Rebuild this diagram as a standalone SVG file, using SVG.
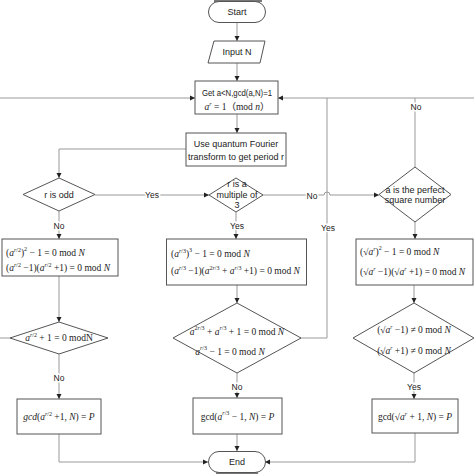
<svg xmlns="http://www.w3.org/2000/svg" width="474" height="474" viewBox="0 0 474 474">
<style>
.shape{fill:#fff;stroke:#555;stroke-width:1}
.ln{fill:none;stroke:#999;stroke-width:1}
.t{font-family:"Liberation Sans",Arial,sans-serif;font-size:9px;fill:#222;text-anchor:middle}
.m{font-family:"Liberation Serif","Noto Sans CJK SC",serif;font-size:9.5px;fill:#222;text-anchor:middle}
.s{text-anchor:start}
.i{font-style:italic}
.lbl{font-family:"Liberation Sans",Arial,sans-serif;font-size:8.5px;fill:#222;text-anchor:middle;stroke:#fff;stroke-width:3px;paint-order:stroke}
</style>
<defs>
<marker id="ah" markerWidth="6" markerHeight="6" refX="5" refY="3" orient="auto" markerUnits="userSpaceOnUse">
<path d="M0,0.5 L5,3 L0,5.5 Z" fill="#222"/>
</marker>
</defs>
<rect x="0" y="0" width="474" height="474" fill="#fff"/>

<g id="connectors">
<path class="ln" d="M237,22 V41" marker-end="url(#ah)"/>
<path class="ln" d="M237,63 V81" marker-end="url(#ah)"/>
<path class="ln" d="M237,114 V133" marker-end="url(#ah)"/>
<path class="ln" d="M186,149 H59 V178" marker-end="url(#ah)"/>
<path class="ln" d="M95,195 H209" marker-end="url(#ah)"/>
<path class="ln" d="M59,211 V239" marker-end="url(#ah)"/>
<path class="ln" d="M263,195 H324 A3,3 0 0 1 330,195 H379" marker-end="url(#ah)"/>
<path class="ln" d="M236,212 V239" marker-end="url(#ah)"/>
<path class="ln" d="M415,222 V239" marker-end="url(#ah)"/>
<path class="ln" d="M415,167 V98"/>
<path class="ln" d="M474,98 H278" marker-end="url(#ah)"/>
<path class="ln" d="M300,338 H327 V98"/>
<path class="ln" d="M59,276 V322" marker-end="url(#ah)"/>
<path class="ln" d="M10,338 H0"/>
<path class="ln" d="M0,98 H195" marker-end="url(#ah)"/>
<path class="ln" d="M59,354 V399" marker-end="url(#ah)"/>
<path class="ln" d="M59,434 V462 H208" marker-end="url(#ah)"/>
<path class="ln" d="M237,285 V303" marker-end="url(#ah)"/>
<path class="ln" d="M237,373 V398" marker-end="url(#ah)"/>
<path class="ln" d="M237,434 V451" marker-end="url(#ah)"/>
<path class="ln" d="M414,285 V303" marker-end="url(#ah)"/>
<path class="ln" d="M414,373 V399" marker-end="url(#ah)"/>
<path class="ln" d="M415,433 V462 H265" marker-end="url(#ah)"/>
<text class="lbl" x="152" y="198">Yes</text>
<text class="lbl" x="59" y="229">No</text>
<text class="lbl" x="312" y="199">No</text>
<text class="lbl" x="237" y="229">Yes</text>
<text class="lbl" x="416" y="110">No</text>
<text class="lbl" x="328" y="231">Yes</text>
<text class="lbl" x="59" y="381">No</text>
<text class="lbl" x="237" y="390">No</text>
<text class="lbl" x="414" y="390">Yes</text>
</g>

<g id="start">
<rect x="214" y="0" width="48" height="2" fill="#777"/>
<rect class="shape" x="208.5" y="1.5" width="57" height="21" rx="10.5"/>
<text class="t" x="237" y="15">Start</text>
</g>

<g id="input">
<path class="shape" d="M214,41 H265 L260,63 H208 Z"/>
<text class="t" x="237" y="55">Input N</text>
</g>

<g id="get">
<rect class="shape" x="195" y="81" width="83" height="33"/>
<text class="t" x="237" y="96" textLength="70" lengthAdjust="spacingAndGlyphs">Get a&lt;N,gcd(a,N)=1</text>
<text class="m" x="237" y="110"><tspan class="i">a</tspan><tspan font-size="6" dy="-4" class="i">r</tspan><tspan dy="4"> = 1（mod </tspan><tspan class="i">n</tspan>）</text>
</g>

<g id="qft">
<rect class="shape" x="186" y="133" width="100" height="33"/>
<text class="t" x="236" y="147">Use quantum Fourier</text>
<text class="t" x="236" y="160">transform to get period r</text>
</g>

<g id="odd">
<path class="shape" d="M59,178 L95,194.5 L59,211 L23,194.5 Z"/>
<text class="t" x="59" y="198">r is odd</text>
</g>

<g id="mult3">
<path class="shape" d="M236,178 L263,195 L236,212 L209,195 Z"/>
<text class="t" x="237" y="187" font-size="8.5">r is a</text>
<text class="t" x="237" y="198" font-size="8.5">multiple of</text>
<text class="t" x="237" y="208" font-size="8.5">3</text>
</g>

<g id="square">
<path class="shape" d="M415,167 L451,194.5 L415,222 L379,194.5 Z"/>
<text class="t" x="415" y="193" font-size="8.5">a is the perfect</text>
<text class="t" x="415" y="203" font-size="8.5">square number</text>
</g>

<g id="box2">
<rect class="shape" x="2" y="239" width="116" height="37"/>
<text class="m s" x="6" y="256">(<tspan class="i">a</tspan><tspan font-size="6" dy="-4" class="i">r</tspan><tspan font-size="6">/2</tspan><tspan dy="4">)</tspan><tspan font-size="6" dy="-5">2</tspan><tspan dy="5"> − 1 = 0 mod </tspan><tspan class="i">N</tspan></text>
<text class="m s" x="6" y="271">(<tspan class="i">a</tspan><tspan font-size="6" dy="-4" class="i">r</tspan><tspan font-size="6">/2</tspan><tspan dy="4"> −1)(</tspan><tspan class="i">a</tspan><tspan font-size="6" dy="-4" class="i">r</tspan><tspan font-size="6">/2</tspan><tspan dy="4"> +1) = 0 mod </tspan><tspan class="i">N</tspan></text>
</g>

<g id="box3">
<rect class="shape" x="166.5" y="239" width="140" height="46"/>
<text class="m s" x="171" y="257">(<tspan class="i">a</tspan><tspan font-size="6" dy="-4" class="i">r</tspan><tspan font-size="6">/3</tspan><tspan dy="4">)</tspan><tspan font-size="6" dy="-5">3</tspan><tspan dy="5"> − 1 = 0 mod </tspan><tspan class="i">N</tspan></text>
<text class="m s" x="171" y="274">(<tspan class="i">a</tspan><tspan font-size="6" dy="-4" class="i">r</tspan><tspan font-size="6">/3</tspan><tspan dy="4"> −1)(</tspan><tspan class="i">a</tspan><tspan font-size="6" dy="-4">2<tspan class="i">r</tspan>/3</tspan><tspan dy="4"> + </tspan><tspan class="i">a</tspan><tspan font-size="6" dy="-4" class="i">r</tspan><tspan font-size="6">/3</tspan><tspan dy="4"> +1) = 0 mod </tspan><tspan class="i">N</tspan></text>
</g>

<g id="boxsq">
<rect class="shape" x="356" y="239" width="117" height="46"/>
<text class="m s" x="360" y="255">(√<tspan class="i">a</tspan><tspan font-size="6" dy="-4" class="i">r</tspan><tspan dy="4">)</tspan><tspan font-size="6" dy="-5">2</tspan><tspan dy="5"> − 1 = 0 mod </tspan><tspan class="i">N</tspan></text>
<text class="m s" x="360" y="275">(√<tspan class="i">a</tspan><tspan font-size="6" dy="-4" class="i">r</tspan><tspan dy="4"> −1)(√</tspan><tspan class="i">a</tspan><tspan font-size="6" dy="-4" class="i">r</tspan><tspan dy="4"> +1) = 0 mod </tspan><tspan class="i">N</tspan></text>
</g>

<g id="dec2">
<path class="shape" d="M59,322 L108,338 L59,354 L10,338 Z"/>
<text class="m" x="59" y="341"><tspan class="i">a</tspan><tspan font-size="6" dy="-4" class="i">r</tspan><tspan font-size="6">/2</tspan><tspan dy="4"> + 1 = 0 modN</tspan></text>
</g>

<g id="dec3">
<path class="shape" d="M237,303 L301,338 L237,373 L173,338 Z"/>
<text class="m" x="237" y="335"><tspan class="i">a</tspan><tspan font-size="6" dy="-5">2<tspan class="i">r</tspan>/3</tspan><tspan dy="5"> + </tspan><tspan class="i">a</tspan><tspan font-size="6" dy="-5" class="i">r</tspan><tspan font-size="6">/3</tspan><tspan dy="5"> + 1 = 0 mod </tspan><tspan class="i">N</tspan></text>
<text class="m" x="230" y="355"><tspan class="i">a</tspan><tspan font-size="6" dy="-5" class="i">r</tspan><tspan font-size="6">/3</tspan><tspan dy="5"> − 1 = 0 mod </tspan><tspan class="i">N</tspan></text>
</g>

<g id="decsq">
<path class="shape" d="M414,303 L474,338 L414,373 L353,338 Z"/>
<text class="m" x="414" y="333" font-size="9">(√<tspan class="i">a</tspan><tspan font-size="5.5" dy="-4" class="i">r</tspan><tspan dy="4"> −1) ≠ 0 mod </tspan><tspan class="i">N</tspan></text>
<text class="m" x="414" y="354" font-size="9">(√<tspan class="i">a</tspan><tspan font-size="5.5" dy="-4" class="i">r</tspan><tspan dy="4"> +1) ≠ 0 mod </tspan><tspan class="i">N</tspan></text>
</g>

<g id="gcd2">
<rect class="shape" x="17" y="399" width="84" height="35"/>
<text class="m" x="59" y="420"><tspan class="i">gcd</tspan>(<tspan class="i">a</tspan><tspan font-size="6" dy="-4" class="i">r</tspan><tspan font-size="6">/2</tspan><tspan dy="4"> +1, </tspan><tspan class="i">N</tspan>) = <tspan class="i">P</tspan></text>
</g>

<g id="gcd3">
<rect class="shape" x="193" y="398" width="89" height="36"/>
<text class="m" x="237.5" y="420">gcd(<tspan class="i">a</tspan><tspan font-size="6" dy="-5" class="i">r</tspan><tspan font-size="6">/3</tspan><tspan dy="5"> − 1, </tspan><tspan class="i">N</tspan>) = <tspan class="i">P</tspan></text>
</g>

<g id="gcdsq">
<rect class="shape" x="372" y="399" width="86" height="34"/>
<text class="m" x="415" y="420">gcd(√<tspan class="i">a</tspan><tspan font-size="6" dy="-4" class="i">r</tspan><tspan dy="4"> + 1, </tspan><tspan class="i">N</tspan>) = <tspan class="i">P</tspan></text>
</g>

<g id="end">
<rect x="216" y="471" width="42" height="3" fill="#777"/>
<rect class="shape" x="208.5" y="451.5" width="57" height="21" rx="10.5"/>
<text class="t" x="237" y="465">End</text>
</g>
</svg>
